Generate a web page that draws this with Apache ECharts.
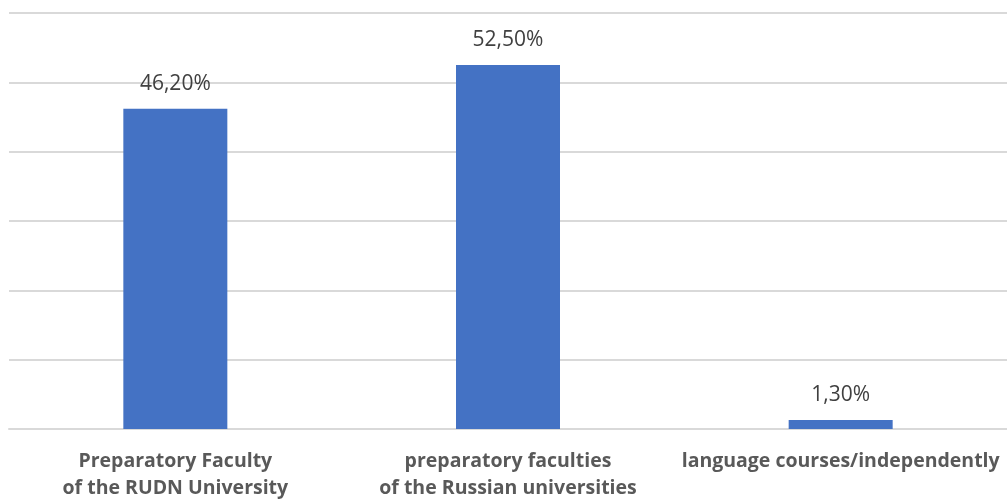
<!DOCTYPE html>
<html><head><meta charset="utf-8">
<script src="https://cdn.jsdelivr.net/npm/echarts@6/dist/echarts.min.js"></script>
<style>html,body{margin:0;padding:0;background:#fff}#c{width:1007px;height:502px}</style>
</head><body><div id="c"></div>
<script>
const categories = ["Preparatory Faculty\nof the RUDN University", "preparatory faculties\nof the Russian universities", "language courses/independently"];
const values = [46.2, 52.5, 1.3];
const yTicks = [0, 10, 20, 30, 40, 50, 60];

const chart = echarts.init(document.getElementById('c'), null, {renderer: 'canvas'});
chart.setOption({
  animation: false,
  grid: {left: 9, top: 13, width: 1000, height: 424, containLabel: false},
  xAxis: {
    type: 'category', data: categories,
    axisLine: {show: true, lineStyle: {color: '#d9d9d9', width: 2}},
    axisTick: {show: false},
    axisLabel: {interval: 0, color: '#595959', fontFamily: 'Open Sans', fontWeight: 'bold', fontSize: 19.5, lineHeight: 27, margin: 19}
  },
  yAxis: {
    type: 'value', min: yTicks[0], max: yTicks[yTicks.length - 1], interval: 10,
    axisLabel: {show: false}, axisLine: {show: false}, axisTick: {show: false},
    splitLine: {lineStyle: {color: '#d9d9d9', width: 2}}
  },
  series: [{
    type: 'bar', data: values, barWidth: 104,
    itemStyle: {color: '#4472c4'},
    label: {show: true, position: 'top', distance: 14, color: '#404040', fontFamily: 'Open Sans', fontSize: 21,
      formatter: p => p.value.toFixed(2).replace('.', ',') + '%'}
  }]
});
</script></body></html>
